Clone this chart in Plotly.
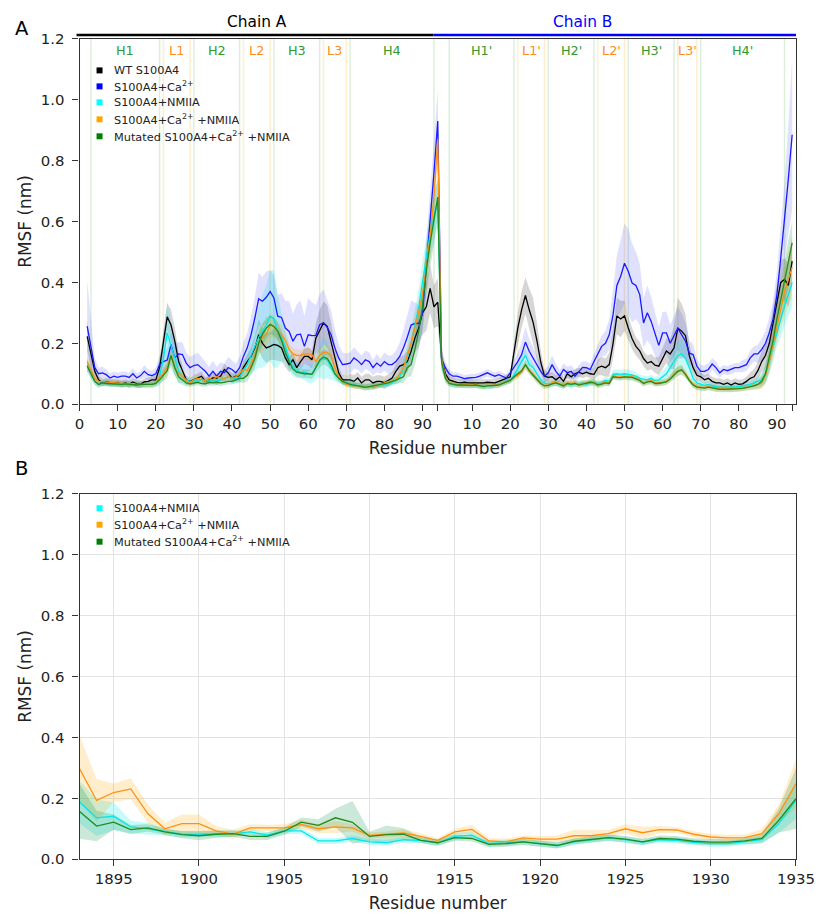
import numpy as np
import plotly.graph_objects as go

# The photographed page shows the figure offset by the page margin and slightly
# shrunk; layout positions below are given in reference-picture pixels and
# mapped back to figure pixels.
SX, OX = 0.968, 7.7
SY, OY = 0.982, 7.5
W = 836
H = 924
FONT = "DejaVu Sans"


def xp(px):
    px = px + 3.0 * (796 - px) / 716
    return ((px - OX) / SX) / W


def yp(py):
    return 1 - ((py - OY) / SY) / H


def fs(size):
    return round(size / 0.976, 1)


# ---------------- Panel A data (residues 2..94 of each chain) ----------------
res_A = list(range(2, 95))
res_B = list(range(2, 95))
chainB_offset = 93

wt_A = [0.223, 0.163, 0.108, 0.08, 0.07, 0.075, 0.07, 0.07, 0.07, 0.067,
        0.07, 0.065, 0.073, 0.067, 0.065, 0.073, 0.075, 0.08, 0.08, 0.12,
        0.20, 0.287, 0.26, 0.207, 0.14, 0.108, 0.08, 0.075, 0.08, 0.086,
        0.092, 0.075, 0.08, 0.086, 0.086, 0.092, 0.114, 0.103, 0.086, 0.092,
        0.092, 0.12, 0.14, 0.157, 0.185, 0.228, 0.20, 0.185, 0.19, 0.196,
        0.193, 0.185, 0.152, 0.13, 0.146, 0.12, 0.14, 0.157, 0.157, 0.146,
        0.217, 0.24, 0.267, 0.256, 0.207, 0.152, 0.103, 0.08, 0.08, 0.08,
        0.075, 0.086, 0.07, 0.08, 0.08, 0.07, 0.075, 0.075, 0.07, 0.078,
        0.086, 0.108, 0.125, 0.13, 0.14, 0.174, 0.217, 0.25, 0.30, 0.32,
        0.38, 0.32, 0.335]
wt_B = [0.15, 0.10, 0.08, 0.075, 0.072, 0.07, 0.072, 0.07, 0.07, 0.068,
        0.07, 0.07, 0.072, 0.07, 0.07, 0.075, 0.08, 0.085, 0.09, 0.17,
        0.25, 0.31, 0.357, 0.31, 0.27, 0.21, 0.14, 0.092, 0.088, 0.09,
        0.08, 0.09, 0.075, 0.10, 0.09, 0.10, 0.105, 0.10, 0.105, 0.10,
        0.098, 0.12, 0.125, 0.12, 0.13, 0.20, 0.29, 0.28, 0.29, 0.25,
        0.215, 0.19, 0.175, 0.15, 0.135, 0.14, 0.128, 0.125, 0.15, 0.175,
        0.165, 0.185, 0.25, 0.24, 0.225, 0.16, 0.12, 0.095, 0.09, 0.08,
        0.085, 0.075, 0.07, 0.07, 0.065, 0.07, 0.063, 0.07, 0.065, 0.067,
        0.075, 0.085, 0.09, 0.11, 0.14, 0.16, 0.20, 0.27, 0.33, 0.40,
        0.41, 0.39, 0.47]
ca_A = [0.256, 0.185, 0.12, 0.10, 0.103, 0.097, 0.086, 0.092, 0.088, 0.092,
        0.092, 0.088, 0.10, 0.086, 0.094, 0.108, 0.097, 0.094, 0.10, 0.13,
        0.14, 0.145, 0.196, 0.152, 0.165, 0.163, 0.135, 0.12, 0.127, 0.13,
        0.12, 0.108, 0.092, 0.108, 0.092, 0.108, 0.103, 0.12, 0.114, 0.103,
        0.12, 0.157, 0.185, 0.228, 0.283, 0.346, 0.338, 0.351, 0.37, 0.349,
        0.289, 0.285, 0.25, 0.239, 0.207, 0.228, 0.23, 0.19, 0.228, 0.225,
        0.226, 0.261, 0.267, 0.252, 0.228, 0.185, 0.152, 0.13, 0.132, 0.135,
        0.152, 0.143, 0.13, 0.146, 0.14, 0.12, 0.135, 0.125, 0.14, 0.13,
        0.13, 0.14, 0.157, 0.185, 0.22, 0.26, 0.265, 0.265, 0.30, 0.45,
        0.60, 0.76, 0.93]
ca_B = [0.15, 0.12, 0.10, 0.092, 0.092, 0.088, 0.084, 0.086, 0.086, 0.088,
        0.092, 0.097, 0.103, 0.097, 0.092, 0.097, 0.092, 0.086, 0.103, 0.12,
        0.14, 0.163, 0.204, 0.174, 0.152, 0.13, 0.108, 0.092, 0.103, 0.13,
        0.108, 0.092, 0.114, 0.103, 0.108, 0.092, 0.108, 0.121, 0.12, 0.114,
        0.14, 0.163, 0.19, 0.20, 0.228, 0.294, 0.39, 0.42, 0.463, 0.436,
        0.398, 0.39, 0.36, 0.267, 0.30, 0.272, 0.228, 0.193, 0.234, 0.234,
        0.20, 0.223, 0.25, 0.228, 0.207, 0.168, 0.163, 0.125, 0.108, 0.108,
        0.114, 0.132, 0.12, 0.103, 0.114, 0.11, 0.114, 0.12, 0.12, 0.125,
        0.13, 0.152, 0.165, 0.165, 0.18, 0.20, 0.235, 0.28, 0.36, 0.48,
        0.60, 0.74, 0.885]
nm_A = [0.13, 0.10, 0.075, 0.065, 0.07, 0.068, 0.068, 0.07, 0.068, 0.066,
        0.065, 0.068, 0.065, 0.063, 0.065, 0.064, 0.065, 0.065, 0.07, 0.09,
        0.15, 0.234, 0.19, 0.15, 0.11, 0.09, 0.08, 0.075, 0.078, 0.08,
        0.08, 0.075, 0.08, 0.078, 0.075, 0.08, 0.085, 0.09, 0.085, 0.085,
        0.09, 0.11, 0.13, 0.16, 0.19, 0.22, 0.24, 0.26, 0.29, 0.28,
        0.24, 0.22, 0.19, 0.15, 0.12, 0.11, 0.105, 0.105, 0.10, 0.10,
        0.12, 0.14, 0.15, 0.145, 0.12, 0.10, 0.085, 0.075, 0.07, 0.068,
        0.065, 0.06, 0.062, 0.058, 0.055, 0.058, 0.06, 0.062, 0.065, 0.068,
        0.07, 0.08, 0.09, 0.12, 0.15, 0.20, 0.26, 0.32, 0.40, 0.48,
        0.56, 0.62, 0.66]
nm_B = [0.14, 0.09, 0.07, 0.065, 0.065, 0.063, 0.062, 0.063, 0.062, 0.063,
        0.062, 0.06, 0.062, 0.06, 0.063, 0.066, 0.07, 0.075, 0.078, 0.095,
        0.12, 0.14, 0.16, 0.13, 0.12, 0.10, 0.08, 0.07, 0.065, 0.068,
        0.07, 0.065, 0.063, 0.068, 0.065, 0.068, 0.067, 0.07, 0.065, 0.07,
        0.072, 0.068, 0.07, 0.078, 0.075, 0.098, 0.10, 0.098, 0.10, 0.098,
        0.096, 0.092, 0.085, 0.082, 0.08, 0.085, 0.078, 0.08, 0.09, 0.10,
        0.12, 0.14, 0.16, 0.165, 0.15, 0.12, 0.085, 0.07, 0.065, 0.062,
        0.065, 0.06, 0.057, 0.055, 0.055, 0.055, 0.055, 0.057, 0.058, 0.06,
        0.062, 0.065, 0.07, 0.075, 0.08, 0.10, 0.14, 0.19, 0.24, 0.28,
        0.32, 0.36, 0.40]
canm_A = [0.14, 0.11, 0.085, 0.075, 0.075, 0.073, 0.072, 0.07, 0.07, 0.068,
          0.068, 0.065, 0.068, 0.065, 0.065, 0.066, 0.065, 0.065, 0.07, 0.09,
          0.10, 0.12, 0.16, 0.12, 0.10, 0.09, 0.078, 0.07, 0.08, 0.085,
          0.082, 0.078, 0.085, 0.08, 0.09, 0.088, 0.085, 0.09, 0.086, 0.09,
          0.10, 0.115, 0.11, 0.13, 0.16, 0.20, 0.22, 0.23, 0.26, 0.255,
          0.24, 0.23, 0.21, 0.18, 0.165, 0.16, 0.16, 0.165, 0.165, 0.162,
          0.14, 0.16, 0.17, 0.17, 0.16, 0.12, 0.09, 0.075, 0.065, 0.065,
          0.06, 0.06, 0.057, 0.055, 0.058, 0.055, 0.06, 0.065, 0.07, 0.075,
          0.075, 0.08, 0.10, 0.12, 0.16, 0.20, 0.25, 0.30, 0.36, 0.45,
          0.55, 0.68, 0.87]
canm_B = [0.15, 0.09, 0.07, 0.068, 0.065, 0.065, 0.063, 0.065, 0.063, 0.065,
          0.062, 0.06, 0.062, 0.062, 0.063, 0.065, 0.07, 0.075, 0.078, 0.088,
          0.095, 0.105, 0.13, 0.11, 0.10, 0.085, 0.07, 0.062, 0.063, 0.07,
          0.072, 0.068, 0.062, 0.07, 0.068, 0.07, 0.065, 0.068, 0.07, 0.075,
          0.072, 0.065, 0.068, 0.072, 0.07, 0.095, 0.09, 0.09, 0.092, 0.09,
          0.09, 0.085, 0.08, 0.07, 0.075, 0.078, 0.07, 0.07, 0.072, 0.075,
          0.085, 0.10, 0.11, 0.115, 0.10, 0.08, 0.065, 0.058, 0.055, 0.055,
          0.058, 0.055, 0.052, 0.05, 0.05, 0.05, 0.05, 0.05, 0.052, 0.052,
          0.055, 0.058, 0.062, 0.065, 0.07, 0.095, 0.14, 0.20, 0.26, 0.32,
          0.37, 0.41, 0.45]
mut_A = [0.125, 0.10, 0.075, 0.065, 0.07, 0.068, 0.067, 0.068, 0.066, 0.065,
         0.067, 0.066, 0.065, 0.063, 0.065, 0.064, 0.065, 0.065, 0.068, 0.08,
         0.095, 0.11, 0.16, 0.12, 0.09, 0.08, 0.07, 0.067, 0.07, 0.072,
         0.068, 0.067, 0.072, 0.07, 0.072, 0.07, 0.072, 0.075, 0.075, 0.08,
         0.085, 0.085, 0.095, 0.12, 0.15, 0.20, 0.23, 0.25, 0.262, 0.255,
         0.24, 0.21, 0.17, 0.14, 0.115, 0.105, 0.102, 0.10, 0.10, 0.098,
         0.12, 0.145, 0.155, 0.15, 0.13, 0.10, 0.085, 0.075, 0.07, 0.065,
         0.063, 0.06, 0.058, 0.055, 0.058, 0.06, 0.063, 0.065, 0.068, 0.07,
         0.075, 0.078, 0.085, 0.09, 0.12, 0.13, 0.18, 0.24, 0.32, 0.44,
         0.53, 0.60, 0.68]
mut_B = [0.14, 0.085, 0.068, 0.065, 0.063, 0.063, 0.062, 0.063, 0.062, 0.063,
         0.06, 0.058, 0.06, 0.06, 0.062, 0.063, 0.068, 0.073, 0.078, 0.09,
         0.10, 0.11, 0.13, 0.11, 0.095, 0.08, 0.068, 0.06, 0.062, 0.067,
         0.07, 0.065, 0.06, 0.068, 0.065, 0.068, 0.063, 0.066, 0.068, 0.072,
         0.07, 0.063, 0.066, 0.07, 0.068, 0.09, 0.088, 0.087, 0.09, 0.088,
         0.088, 0.083, 0.078, 0.068, 0.073, 0.075, 0.068, 0.068, 0.07, 0.073,
         0.083, 0.097, 0.108, 0.112, 0.098, 0.078, 0.063, 0.056, 0.054, 0.053,
         0.056, 0.053, 0.05, 0.049, 0.049, 0.049, 0.049, 0.05, 0.051, 0.052,
         0.054, 0.056, 0.06, 0.065, 0.075, 0.10, 0.15, 0.21, 0.28, 0.34,
         0.40, 0.46, 0.53]

# standard deviations (shaded bands)
wt_A_sd = [0.05, 0.04, 0.02, 0.015, 0.012, 0.012, 0.012, 0.012, 0.012, 0.012,
           0.012, 0.012, 0.012, 0.012, 0.012, 0.012, 0.012, 0.012, 0.015, 0.03,
           0.05, 0.045, 0.05, 0.045, 0.03, 0.02, 0.015, 0.012, 0.015, 0.015,
           0.015, 0.012, 0.012, 0.015, 0.015, 0.015, 0.02, 0.015, 0.015, 0.015,
           0.015, 0.02, 0.025, 0.03, 0.04, 0.05, 0.05, 0.05, 0.045, 0.05,
           0.05, 0.045, 0.03, 0.025, 0.025, 0.02, 0.025, 0.025, 0.03, 0.03,
           0.05, 0.07, 0.07, 0.07, 0.06, 0.04, 0.02, 0.015, 0.015, 0.02,
           0.02, 0.02, 0.02, 0.02, 0.02, 0.02, 0.02, 0.02, 0.02, 0.02,
           0.02, 0.025, 0.03, 0.03, 0.035, 0.04, 0.05, 0.06, 0.07, 0.08,
           0.08, 0.07, 0.08]
wt_B_sd = [0.03, 0.02, 0.015, 0.012, 0.012, 0.012, 0.012, 0.012, 0.012, 0.012,
           0.012, 0.012, 0.012, 0.012, 0.012, 0.012, 0.012, 0.012, 0.015, 0.03,
           0.05, 0.06, 0.06, 0.07, 0.08, 0.06, 0.04, 0.02, 0.015, 0.015,
           0.015, 0.015, 0.015, 0.015, 0.015, 0.015, 0.015, 0.015, 0.015, 0.015,
           0.02, 0.025, 0.03, 0.03, 0.04, 0.05, 0.06, 0.06, 0.05, 0.04,
           0.035, 0.03, 0.03, 0.025, 0.025, 0.025, 0.025, 0.03, 0.035, 0.04,
           0.05, 0.07, 0.10, 0.09, 0.07, 0.04, 0.025, 0.02, 0.015, 0.015,
           0.015, 0.015, 0.015, 0.015, 0.015, 0.015, 0.015, 0.015, 0.015, 0.015,
           0.015, 0.02, 0.025, 0.03, 0.035, 0.04, 0.045, 0.05, 0.06, 0.07,
           0.07, 0.07, 0.08]
ca_A_sd = [0.15, 0.08, 0.03, 0.02, 0.02, 0.018, 0.015, 0.015, 0.015, 0.015,
           0.015, 0.015, 0.018, 0.015, 0.015, 0.02, 0.018, 0.015, 0.02, 0.03,
           0.035, 0.04, 0.04, 0.045, 0.04, 0.04, 0.035, 0.035, 0.035, 0.04,
           0.035, 0.03, 0.03, 0.035, 0.03, 0.03, 0.03, 0.035, 0.03, 0.03,
           0.035, 0.045, 0.05, 0.06, 0.07, 0.085, 0.08, 0.085, 0.07, 0.075,
           0.07, 0.08, 0.09, 0.10, 0.09, 0.10, 0.11, 0.10, 0.12, 0.11,
           0.10, 0.10, 0.11, 0.09, 0.08, 0.06, 0.045, 0.04, 0.035, 0.035,
           0.035, 0.03, 0.03, 0.03, 0.03, 0.025, 0.03, 0.025, 0.03, 0.03,
           0.03, 0.035, 0.045, 0.06, 0.07, 0.08, 0.07, 0.06, 0.07, 0.08,
           0.08, 0.09, 0.10]
ca_B_sd = [0.03, 0.02, 0.015, 0.012, 0.012, 0.012, 0.012, 0.012, 0.012, 0.012,
           0.012, 0.012, 0.012, 0.012, 0.012, 0.012, 0.012, 0.012, 0.012, 0.02,
           0.03, 0.04, 0.05, 0.04, 0.035, 0.03, 0.025, 0.02, 0.025, 0.03,
           0.025, 0.02, 0.02, 0.02, 0.02, 0.02, 0.02, 0.02, 0.02, 0.02,
           0.025, 0.03, 0.035, 0.04, 0.05, 0.08, 0.10, 0.12, 0.13, 0.14,
           0.13, 0.11, 0.10, 0.08, 0.09, 0.08, 0.07, 0.06, 0.07, 0.07,
           0.06, 0.07, 0.07, 0.07, 0.06, 0.04, 0.035, 0.025, 0.02, 0.02,
           0.02, 0.02, 0.02, 0.015, 0.015, 0.015, 0.015, 0.015, 0.015, 0.02,
           0.02, 0.025, 0.025, 0.03, 0.035, 0.04, 0.05, 0.06, 0.08, 0.10,
           0.13, 0.18, 0.25]
nm_A_sd = [0.02, 0.015, 0.012, 0.01, 0.01, 0.01, 0.01, 0.01, 0.01, 0.01,
           0.01, 0.01, 0.01, 0.01, 0.01, 0.01, 0.01, 0.01, 0.012, 0.03,
           0.07, 0.10, 0.08, 0.06, 0.04, 0.02, 0.015, 0.012, 0.012, 0.012,
           0.012, 0.012, 0.012, 0.012, 0.012, 0.012, 0.012, 0.015, 0.015, 0.015,
           0.02, 0.03, 0.04, 0.06, 0.08, 0.10, 0.12, 0.13, 0.15, 0.16,
           0.12, 0.08, 0.05, 0.04, 0.03, 0.025, 0.02, 0.025, 0.03, 0.03,
           0.04, 0.05, 0.07, 0.06, 0.04, 0.025, 0.015, 0.012, 0.012, 0.012,
           0.01, 0.01, 0.01, 0.01, 0.01, 0.01, 0.01, 0.01, 0.01, 0.012,
           0.012, 0.015, 0.02, 0.03, 0.04, 0.05, 0.06, 0.06, 0.07, 0.08,
           0.08, 0.08, 0.08]
nm_B_sd = [0.03, 0.015, 0.01, 0.01, 0.01, 0.01, 0.01, 0.01, 0.01, 0.01,
           0.01, 0.01, 0.01, 0.01, 0.01, 0.01, 0.01, 0.01, 0.01, 0.012,
           0.015, 0.02, 0.025, 0.02, 0.015, 0.012, 0.01, 0.01, 0.01, 0.01,
           0.01, 0.01, 0.01, 0.01, 0.01, 0.01, 0.01, 0.01, 0.01, 0.01,
           0.01, 0.01, 0.01, 0.012, 0.012, 0.015, 0.015, 0.015, 0.015, 0.015,
           0.015, 0.012, 0.012, 0.012, 0.012, 0.012, 0.012, 0.015, 0.02, 0.025,
           0.03, 0.04, 0.05, 0.05, 0.04, 0.03, 0.015, 0.01, 0.01, 0.01,
           0.01, 0.01, 0.01, 0.01, 0.01, 0.01, 0.01, 0.01, 0.01, 0.01,
           0.01, 0.01, 0.012, 0.015, 0.02, 0.03, 0.04, 0.05, 0.05, 0.06,
           0.06, 0.07, 0.08]
canm_A_sd = [0.02, 0.015, 0.012, 0.01, 0.01, 0.01, 0.01, 0.01, 0.01, 0.01,
             0.01, 0.01, 0.01, 0.01, 0.01, 0.01, 0.01, 0.01, 0.01, 0.015,
             0.02, 0.025, 0.03, 0.025, 0.02, 0.015, 0.012, 0.01, 0.012, 0.012,
             0.012, 0.012, 0.012, 0.012, 0.012, 0.012, 0.012, 0.012, 0.012, 0.012,
             0.015, 0.02, 0.02, 0.025, 0.03, 0.04, 0.045, 0.045, 0.04, 0.035,
             0.03, 0.03, 0.025, 0.02, 0.02, 0.02, 0.02, 0.02, 0.02, 0.02,
             0.02, 0.025, 0.025, 0.025, 0.02, 0.015, 0.012, 0.01, 0.01, 0.01,
             0.01, 0.01, 0.01, 0.01, 0.01, 0.01, 0.01, 0.01, 0.01, 0.01,
             0.01, 0.012, 0.015, 0.02, 0.03, 0.04, 0.05, 0.05, 0.06, 0.07,
             0.08, 0.08, 0.08]
canm_B_sd = [0.03, 0.015, 0.01, 0.01, 0.01, 0.01, 0.01, 0.01, 0.01, 0.01,
             0.01, 0.01, 0.01, 0.01, 0.01, 0.01, 0.01, 0.01, 0.01, 0.01,
             0.012, 0.012, 0.015, 0.012, 0.012, 0.01, 0.01, 0.01, 0.01, 0.01,
             0.01, 0.01, 0.01, 0.01, 0.01, 0.01, 0.01, 0.01, 0.01, 0.01,
             0.01, 0.01, 0.01, 0.01, 0.01, 0.01, 0.01, 0.01, 0.01, 0.01,
             0.01, 0.01, 0.01, 0.01, 0.01, 0.01, 0.01, 0.01, 0.01, 0.01,
             0.012, 0.015, 0.015, 0.015, 0.012, 0.01, 0.01, 0.01, 0.01, 0.01,
             0.01, 0.01, 0.01, 0.01, 0.01, 0.01, 0.01, 0.01, 0.01, 0.01,
             0.01, 0.01, 0.012, 0.015, 0.02, 0.03, 0.04, 0.05, 0.06, 0.07,
             0.08, 0.09, 0.10]
mut_A_sd = [0.02, 0.015, 0.012, 0.01, 0.01, 0.01, 0.01, 0.01, 0.01, 0.01,
            0.01, 0.01, 0.01, 0.01, 0.01, 0.01, 0.01, 0.01, 0.01, 0.015,
            0.02, 0.025, 0.03, 0.025, 0.02, 0.015, 0.012, 0.01, 0.01, 0.01,
            0.01, 0.01, 0.01, 0.01, 0.01, 0.01, 0.01, 0.01, 0.01, 0.01,
            0.012, 0.015, 0.02, 0.025, 0.03, 0.035, 0.035, 0.035, 0.03, 0.03,
            0.03, 0.03, 0.025, 0.02, 0.015, 0.015, 0.015, 0.015, 0.015, 0.015,
            0.02, 0.025, 0.025, 0.025, 0.02, 0.015, 0.012, 0.01, 0.01, 0.01,
            0.01, 0.01, 0.01, 0.01, 0.01, 0.01, 0.01, 0.01, 0.01, 0.01,
            0.01, 0.012, 0.015, 0.02, 0.03, 0.04, 0.05, 0.06, 0.07, 0.08,
            0.08, 0.08, 0.06]
mut_B_sd = [0.03, 0.015, 0.01, 0.01, 0.01, 0.01, 0.01, 0.01, 0.01, 0.01,
            0.01, 0.01, 0.01, 0.01, 0.01, 0.01, 0.01, 0.01, 0.01, 0.01,
            0.012, 0.012, 0.015, 0.012, 0.012, 0.01, 0.01, 0.01, 0.01, 0.01,
            0.01, 0.01, 0.01, 0.01, 0.01, 0.01, 0.01, 0.01, 0.01, 0.01,
            0.01, 0.01, 0.01, 0.01, 0.01, 0.01, 0.01, 0.01, 0.01, 0.01,
            0.01, 0.01, 0.01, 0.01, 0.01, 0.01, 0.01, 0.01, 0.01, 0.01,
            0.012, 0.015, 0.015, 0.015, 0.012, 0.01, 0.01, 0.01, 0.01, 0.01,
            0.01, 0.01, 0.01, 0.01, 0.01, 0.01, 0.01, 0.01, 0.01, 0.01,
            0.01, 0.01, 0.012, 0.015, 0.02, 0.03, 0.04, 0.05, 0.06, 0.07,
            0.08, 0.08, 0.07]

# secondary structure regions (combined residue axis)
helix_lines = [3, 21, 30, 42, 51, 63, 71, 93, 97, 114, 123, 135, 144, 156, 163, 185]
loop_lines = [22, 29, 43, 50, 64, 70, 115, 122, 136, 143, 157, 162]
region_names = ["H1", "L1", "H2", "L2", "H3", "L3", "H4",
                "H1'", "L1'", "H2'", "L2'", "H3'", "L3'", "H4'"]
region_spans = [(3, 21), (22, 29), (30, 42), (43, 50), (51, 63), (64, 70), (71, 93),
                (97, 114), (115, 122), (123, 135), (136, 143), (144, 156), (157, 162), (163, 185)]

tickA_vals = [0, 10, 20, 30, 40, 50, 60, 70, 80, 90,
              103, 113, 123, 133, 143, 153, 163, 173, 183]
tickA_text = ["0", "10", "20", "30", "40", "50", "60", "70", "80", "90",
              "10", "20", "30", "40", "50", "60", "70", "80", "90"]
tickA_chain_ends = [94, 187]

# ---------------- Panel B data (NMIIA residues 1893..1935) ----------------
res_N = list(range(1893, 1936))
nmN = [0.188, 0.136, 0.141, 0.106, 0.10, 0.09, 0.082, 0.082, 0.082, 0.084,
       0.09, 0.079, 0.093, 0.093, 0.06, 0.06, 0.068, 0.057, 0.054, 0.064,
       0.062, 0.054, 0.075, 0.079, 0.051, 0.054, 0.058, 0.051, 0.046, 0.057,
       0.064, 0.07, 0.064, 0.056, 0.064, 0.062, 0.055, 0.051, 0.051, 0.057,
       0.064, 0.117, 0.193]
canmN = [0.297, 0.193, 0.219, 0.231, 0.15, 0.10, 0.117, 0.117, 0.093, 0.082,
         0.103, 0.103, 0.103, 0.114, 0.10, 0.106, 0.103, 0.078, 0.081, 0.086,
         0.075, 0.062, 0.09, 0.098, 0.06, 0.057, 0.07, 0.066, 0.066, 0.077,
         0.077, 0.084, 0.10, 0.087, 0.097, 0.096, 0.082, 0.073, 0.07, 0.071,
         0.084, 0.15, 0.248]
mutN = [0.157, 0.109, 0.122, 0.097, 0.103, 0.09, 0.081, 0.077, 0.082, 0.084,
        0.075, 0.075, 0.092, 0.122, 0.111, 0.136, 0.121, 0.075, 0.081, 0.082,
        0.062, 0.054, 0.071, 0.068, 0.049, 0.051, 0.057, 0.051, 0.045, 0.059,
        0.066, 0.071, 0.066, 0.057, 0.068, 0.066, 0.059, 0.056, 0.056, 0.06,
        0.068, 0.128, 0.199]
nmN_sd = [0.07, 0.06, 0.045, 0.02, 0.02, 0.012, 0.01, 0.01, 0.01, 0.01,
          0.01, 0.01, 0.01, 0.01, 0.01, 0.01, 0.01, 0.01, 0.01, 0.01,
          0.01, 0.01, 0.012, 0.012, 0.01, 0.01, 0.01, 0.01, 0.01, 0.01,
          0.01, 0.01, 0.01, 0.01, 0.01, 0.01, 0.01, 0.01, 0.01, 0.01,
          0.012, 0.03, 0.06]
canmN_sd = [0.11, 0.07, 0.03, 0.035, 0.03, 0.02, 0.03, 0.03, 0.015, 0.015,
            0.012, 0.01, 0.012, 0.015, 0.015, 0.02, 0.012, 0.01, 0.01, 0.012,
            0.01, 0.008, 0.01, 0.015, 0.01, 0.01, 0.008, 0.01, 0.012, 0.02,
            0.018, 0.012, 0.015, 0.02, 0.012, 0.01, 0.01, 0.01, 0.01, 0.01,
            0.015, 0.03, 0.08]
mutN_sd = [0.09, 0.05, 0.025, 0.015, 0.012, 0.01, 0.012, 0.015, 0.012, 0.01,
           0.012, 0.012, 0.012, 0.015, 0.02, 0.03, 0.07, 0.015, 0.03, 0.02,
           0.01, 0.01, 0.01, 0.01, 0.01, 0.01, 0.01, 0.01, 0.01, 0.01,
           0.01, 0.01, 0.01, 0.01, 0.01, 0.01, 0.01, 0.01, 0.01, 0.01,
           0.015, 0.04, 0.10]

# ---------------- styles ----------------
series_A = [
    ("WT S100A4", wt_A, wt_B, wt_A_sd, wt_B_sd, "#000000", "rgba(0,0,0,0.16)", "#000000"),
    ("S100A4+Ca<sup>2+</sup>", ca_A, ca_B, ca_A_sd, ca_B_sd, "#1a1aff", "rgba(60,60,255,0.16)", "#0000ff"),
    ("S100A4+NMIIA", nm_A, nm_B, nm_A_sd, nm_B_sd, "#00e8e8", "rgba(0,230,230,0.22)", "#00ffff"),
    ("S100A4+Ca<sup>2+</sup> +NMIIA", canm_A, canm_B, canm_A_sd, canm_B_sd, "#ff9010", "rgba(255,165,0,0.2)", "#ffa500"),
    ("Mutated S100A4+Ca<sup>2+</sup> +NMIIA", mut_A, mut_B, mut_A_sd, mut_B_sd, "#1e8c1e", "rgba(0,140,60,0.2)", "#008000"),
]
series_B = [
    ("S100A4+NMIIA", nmN, nmN_sd, "#00e8e8", "rgba(0,230,230,0.22)", "#00ffff"),
    ("S100A4+Ca<sup>2+</sup> +NMIIA", canmN, canmN_sd, "#ff9010", "rgba(255,165,0,0.2)", "#ffa500"),
    ("Mutated S100A4+Ca<sup>2+</sup> +NMIIA", mutN, mutN_sd, "#1e8c1e", "rgba(0,140,60,0.2)", "#008000"),
]

fig = go.Figure()

xA = np.concatenate([np.array(res_A), np.array(res_B) + chainB_offset])

for name, a, b, sa, sb, lc, fc, sq in series_A:
    y = np.concatenate([a, b])
    s = np.concatenate([sa, sb])
    up = y + s
    lo = np.clip(y - s, 0, None)
    fig.add_trace(go.Scatter(x=np.concatenate([xA, xA[::-1]]),
                             y=np.concatenate([up, lo[::-1]]),
                             fill="toself", fillcolor=fc, line=dict(width=0),
                             mode="lines", hoverinfo="skip", showlegend=False,
                             xaxis="x", yaxis="y"))
for name, a, b, sa, sb, lc, fc, sq in series_A:
    y = np.concatenate([a, b])
    fig.add_trace(go.Scatter(x=xA, y=y, mode="lines", line=dict(color=lc, width=1.3),
                             name=name, showlegend=False, xaxis="x", yaxis="y"))

xN = np.array(res_N)
for name, v, s, lc, fc, sq in series_B:
    v = np.array(v); s = np.array(s)
    fig.add_trace(go.Scatter(x=np.concatenate([xN, xN[::-1]]),
                             y=np.concatenate([v + s, np.clip(v - s, 0, None)[::-1]]),
                             fill="toself", fillcolor=fc, line=dict(width=0),
                             mode="lines", hoverinfo="skip", showlegend=False,
                             xaxis="x2", yaxis="y2"))
for name, v, s, lc, fc, sq in series_B:
    fig.add_trace(go.Scatter(x=xN, y=v, mode="lines", line=dict(color=lc, width=1.3),
                             name=name, showlegend=False, xaxis="x2", yaxis="y2"))

shapes = []
annotations = []

for xv in helix_lines:
    shapes.append(dict(type="line", xref="x", yref="y", x0=xv, x1=xv, y0=0, y1=1.2,
                       line=dict(color="rgba(0,140,0,0.14)", width=1.5), layer="below"))
for xv in loop_lines:
    shapes.append(dict(type="line", xref="x", yref="y", x0=xv, x1=xv, y0=0, y1=1.2,
                       line=dict(color="rgba(255,165,0,0.2)", width=1.5), layer="below"))

for nm, (a0, a1) in zip(region_names, region_spans):
    col = "#2e9a2e" if nm.startswith("H") else "#ff8c1a"
    annotations.append(dict(x=(a0 + a1) / 2, y=yp(49), xref="x", yref="paper",
                            text=nm, showarrow=False, xanchor="center", yanchor="middle",
                            font=dict(family=FONT, size=fs(12.5), color=col)))

ybar = yp(33.5)
shapes.append(dict(type="line", xref="paper", yref="paper", x0=xp(76), x1=xp(433),
                   y0=ybar, y1=ybar, line=dict(color="black", width=2.5)))
shapes.append(dict(type="line", xref="paper", yref="paper", x0=xp(433), x1=xp(796),
                   y0=ybar, y1=ybar, line=dict(color="#0000ff", width=2.5)))
annotations.append(dict(x=46.5, y=yp(21), xref="x", yref="paper", text="Chain A",
                        showarrow=False, xanchor="center", yanchor="middle",
                        font=dict(family=FONT, size=fs(15), color="black")))
annotations.append(dict(x=132, y=yp(21), xref="x", yref="paper", text="Chain B",
                        showarrow=False, xanchor="center", yanchor="middle",
                        font=dict(family=FONT, size=fs(15), color="#0000ff")))

annotations.append(dict(x=xp(21), y=yp(27), xref="paper", yref="paper", text="A",
                        showarrow=False, xanchor="center", yanchor="middle",
                        font=dict(family=FONT, size=fs(19), color="black")))
annotations.append(dict(x=xp(21), y=yp(468), xref="paper", yref="paper", text="B",
                        showarrow=False, xanchor="center", yanchor="middle",
                        font=dict(family=FONT, size=fs(19), color="black")))


def add_legend(items, y_rows):
    for (label, sqc), yr in zip(items, y_rows):
        shapes.append(dict(type="rect", xref="paper", yref="paper",
                           x0=xp(96), x1=xp(102), y0=yp(yr + 3), y1=yp(yr - 3),
                           fillcolor=sqc, line=dict(width=0)))
        annotations.append(dict(x=xp(111), y=yp(yr), xref="paper", yref="paper",
                                text=label, showarrow=False, xanchor="left", yanchor="middle",
                                font=dict(family=FONT, size=fs(11), color="#222")))


add_legend([(s[0], s[7]) for s in series_A], [69, 85, 101, 118, 135])
add_legend([(s[0], s[5]) for s in series_B], [507.5, 524, 541])

axis_common = dict(showline=True, linecolor="#333", linewidth=1.2, mirror=True,
                   ticks="outside", ticklen=6, tickwidth=1.1, tickcolor="#333",
                   zeroline=False, ticklabeloverflow="allow",
                   tickfont=dict(family=FONT, size=fs(14.5), color="#222"))
ytickvals = [0, 0.2, 0.4, 0.6, 0.8, 1.0, 1.2]
yticktext = ["0.0", "0.2", "0.4", "0.6", "0.8", "1.0", "1.2"]
title_font = dict(family=FONT, size=fs(16.5), color="#222")

fig.update_layout(
    width=W, height=H, margin=dict(l=0, r=0, t=0, b=0),
    paper_bgcolor="white", plot_bgcolor="white", showlegend=False,
    xaxis=dict(domain=[xp(79), xp(796)], range=[0, 188], anchor="y",
               tickmode="array", tickvals=tickA_vals, ticktext=tickA_text,
               minor=dict(tickmode="array", tickvals=tickA_chain_ends, ticks="outside",
                          ticklen=6, tickwidth=1.1, tickcolor="#333", showgrid=False),
               showgrid=False,
               title=dict(text="Residue number", standoff=9, font=title_font),
               **axis_common),
    yaxis=dict(domain=[yp(403.3), yp(37.3)], range=[0, 1.2], anchor="x",
               tickmode="array", tickvals=ytickvals, ticktext=yticktext,
               showgrid=False, ticklabelstandoff=5,
               title=dict(text="RMSF (nm)", standoff=4, font=title_font),
               **axis_common),
    xaxis2=dict(domain=[xp(79), xp(796)], range=[1893, 1935], anchor="y2",
                tickmode="array", tickvals=[1895, 1900, 1905, 1910, 1915, 1920, 1925, 1930, 1935],
                showgrid=True, gridcolor="#e3e3e3", gridwidth=1,
                title=dict(text="Residue number", standoff=9, font=title_font),
                **axis_common),
    yaxis2=dict(domain=[yp(859), yp(493)], range=[0, 1.2], anchor="x2",
                tickmode="array", tickvals=ytickvals, ticktext=yticktext,
                showgrid=True, gridcolor="#e3e3e3", gridwidth=1, ticklabelstandoff=5,
                title=dict(text="RMSF (nm)", standoff=4, font=title_font),
                **axis_common),
    shapes=shapes, annotations=annotations,
)

fig.write_html("out.html")
